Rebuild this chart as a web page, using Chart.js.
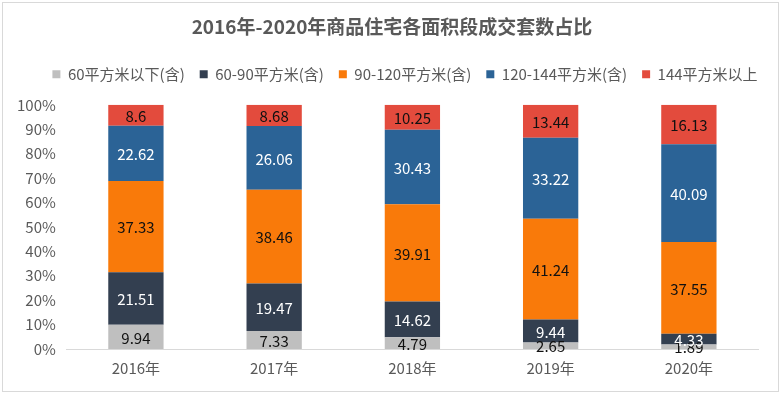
<!DOCTYPE html>
<html><head><meta charset="utf-8">
<script src="https://cdn.jsdelivr.net/npm/chart.js@4/dist/chart.umd.min.js"></script>
<style>
html,body{margin:0;padding:0;background:#fff;}
#wrap{position:absolute;left:2px;top:2px;width:775px;height:388px;border:1px solid #d9d9d9;}
#c{position:absolute;left:0;top:0;}
</style></head>
<body>
<div id="wrap"></div>
<canvas id="c" width="782" height="396"></canvas>
<script>
const categories = ['2016年','2017年','2018年','2019年','2020年'];
const seriesNames = ['60平方米以下(含)','60-90平方米(含)','90-120平方米(含)','120-144平方米(含)','144平方米以上'];
const s60 = [9.94, 7.33, 4.79, 2.65, 1.89];
const s60_90 = [21.51, 19.47, 14.62, 9.44, 4.33];
const s90_120 = [37.33, 38.46, 39.91, 41.24, 37.55];
const s120_144 = [22.62, 26.06, 30.43, 33.22, 40.09];
const s144 = [8.6, 8.68, 10.25, 13.44, 16.13];
const yTicks = [0,10,20,30,40,50,60,70,80,90,100];

const colors = ['#BFBFBF','#333F50','#F97A0A','#2B6396','#E34B3D'];
const labelColors = ['#111','#fff','#111','#fff','#111'];
const all = [s60, s60_90, s90_120, s120_144, s144];
const FONT = '"Noto Sans CJK SC","Noto Sans",sans-serif';

const labelPlugin = {
  id:'segLabels',
  afterDatasetsDraw(chart){
    const ctx = chart.ctx;
    ctx.save();
    ctx.font = '15px ' + FONT;
    ctx.textAlign = 'center';
    ctx.textBaseline = 'middle';
    chart.data.datasets.forEach((ds, i) => {
      const meta = chart.getDatasetMeta(i);
      meta.data.forEach((bar, j) => {
        const y = (bar.y + bar.base) / 2;
        ctx.fillStyle = labelColors[i];
        ctx.fillText(String(ds.data[j]), bar.x, y + 1);
      });
    });
    ctx.restore();
  }
};

const legendGap = {
  id:'legendGap',
  beforeInit(chart){
    const orig = chart.legend.fit;
    chart.legend.fit = function(){ orig.bind(chart.legend)(); this.height += 13; };
  },
  afterLayout(chart){
    chart.legend.left += 19; chart.legend.right += 19;
    chart.titleBlock.left += 6; chart.titleBlock.right += 6;
  }
};

new Chart(document.getElementById('c'), {
  type:'bar',
  data:{
    labels:categories,
    datasets: all.map((d,i)=>({
      label:seriesNames[i], data:d, backgroundColor:colors[i],
      borderWidth:0, barPercentage:0.8, categoryPercentage:0.5
    }))
  },
  options:{
    responsive:false, animation:false,
    devicePixelRatio:1,
    layout:{padding:{left:14,right:24,top:4,bottom:17}},
    plugins:{
      title:{display:true,text:'2016年-2020年商品住宅各面积段成交套数占比',
        color:'#595959',font:{family:FONT,size:19,weight:'bold'},padding:{top:11,bottom:14}},
      legend:{display:true,position:'top',
        labels:{color:'#595959',font:{family:FONT,size:15},boxWidth:8,boxHeight:8,padding:15}},
      tooltip:{enabled:false}
    },
    scales:{
      x:{stacked:true,
        grid:{display:false},
        border:{display:true,color:'#D9D9D9',width:1},
        ticks:{color:'#595959',font:{family:FONT,size:15},padding:2}},
      y:{stacked:true,min:0,max:100,
        afterBuildTicks(scale){scale.ticks = yTicks.map(v=>({value:v}));},
        grid:{display:false},
        border:{display:false},
        ticks:{color:'#595959',font:{family:FONT,size:15},padding:3,callback:v=>v+'%'}}
    }
  },
  plugins:[labelPlugin, legendGap]
});
</script>
</body></html>
